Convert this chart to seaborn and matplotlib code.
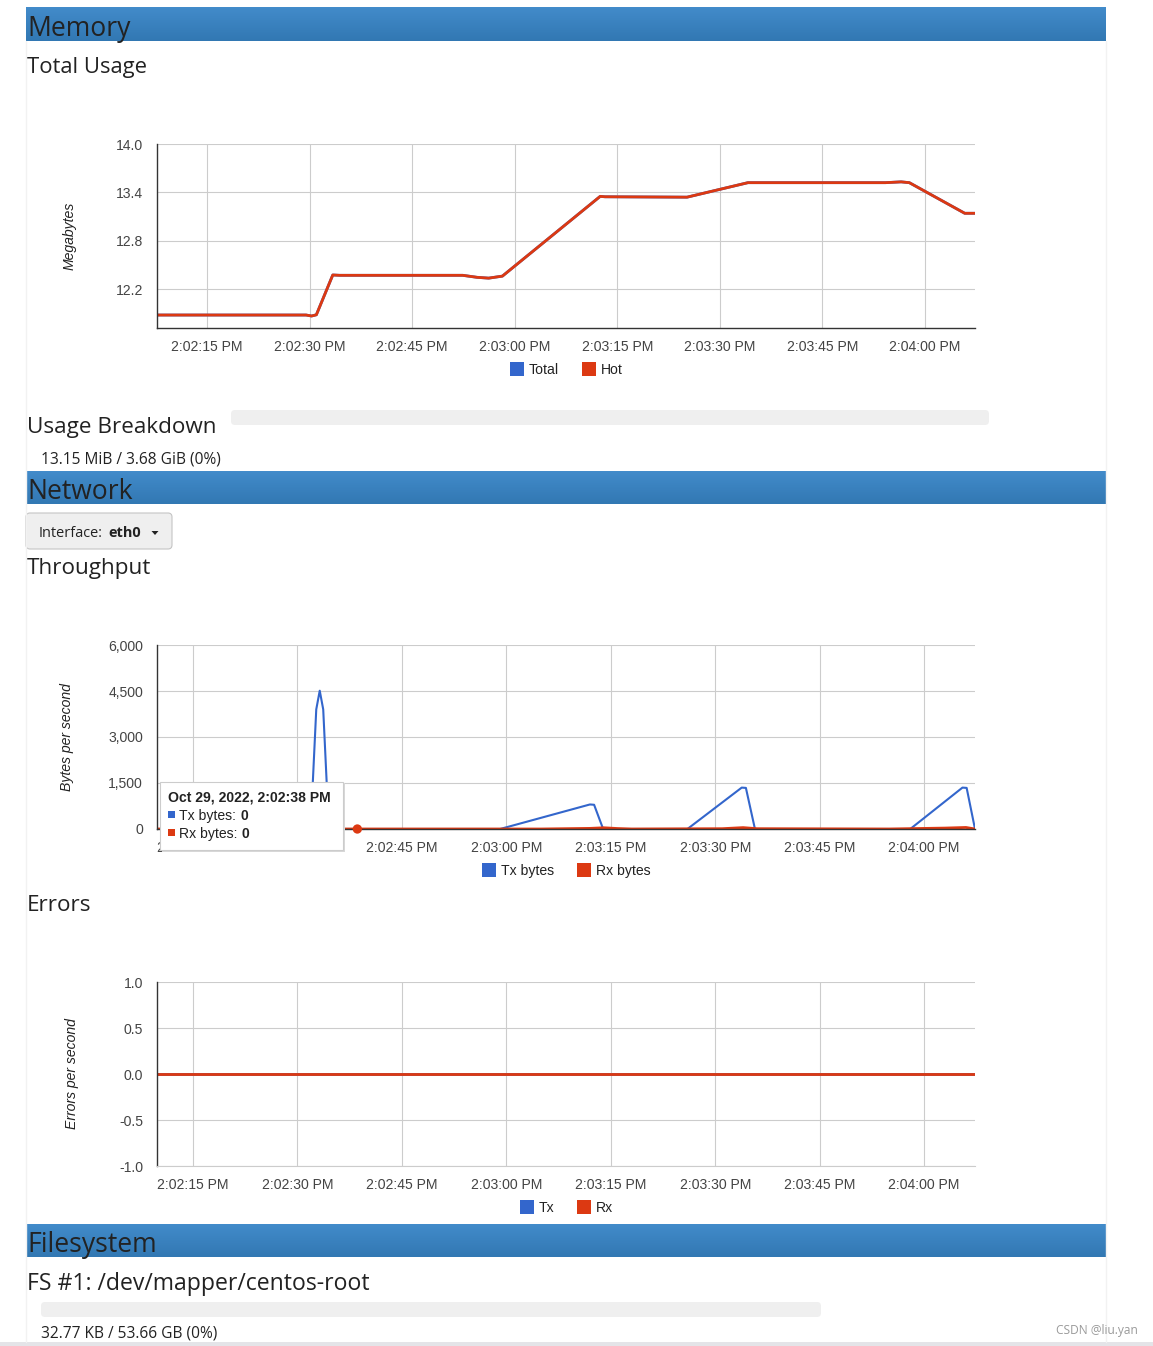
import numpy as np
import pandas as pd
import matplotlib.pyplot as plt
import seaborn as sns
from matplotlib.patches import FancyBboxPatch, Polygon
from matplotlib.lines import Line2D
from matplotlib.colors import LinearSegmentedColormap

sns.set_theme(style="white")
plt.rcParams["font.family"] = ["Liberation Sans", "DejaVu Sans"]

# -------- data (x = seconds after 2:02:15 PM) --------
tick_secs = [0, 15, 30, 45, 60, 75, 90, 105]
tick_labels = ["2:02:15 PM", "2:02:30 PM", "2:02:45 PM", "2:03:00 PM",
               "2:03:15 PM", "2:03:30 PM", "2:03:45 PM", "2:04:00 PM"]

mem_t = [-7.3, 14.5, 15.3, 16.0, 18.4, 19.4, 37.4, 39.5, 41.2, 43.2,
         57.5, 58.2, 70.2, 79.1, 99.2, 101.5, 102.7, 110.8, 112.3]
mem_total = [11.877, 11.877, 11.865, 11.88, 12.374, 12.37, 12.37, 12.345, 12.335, 12.36,
             13.35, 13.345, 13.34, 13.52, 13.52, 13.53, 13.52, 13.14, 13.14]
mem_hot = [11.877, 11.877, 11.865, 11.88, 12.374, 12.37, 12.37, 12.345, 12.335, 12.36,
           13.35, 13.345, 13.34, 13.52, 13.52, 13.53, 13.52, 13.14, 13.14]
mem_yticks = [12.2, 12.8, 13.4, 14.0]
mem_ylabels = ["12.2", "12.8", "13.4", "14.0"]

tx_t = [-5.2, 16.5, 17.2, 17.7, 18.2, 18.7, 19.2, 19.7, 44.1, 57.0, 57.6, 58.9,
        71.0, 78.8, 79.4, 80.7, 103.0, 110.5, 111.1, 112.3]
tx_bytes = [0, 0, 1500, 3900, 4510, 3900, 1500, 0, 0, 800, 790, 0,
            0, 1350, 1340, 0, 0, 1350, 1340, 0]
rx_t = [-5.2, 50.0, 57.0, 59.0, 61.0, 63.0, 76.0, 79.0, 81.0, 100.0, 108.0, 111.0, 112.3]
rx_bytes = [0, 0, 20, 40, 15, 0, 10, 45, 10, 0, 30, 50, 0]
net_yticks = [0, 1500, 3000, 4500, 6000]
net_ylabels = ["0", "1,500", "3,000", "4,500", "6,000"]
hover_t = [23.6]
hover_rx = [0]

err_t = [-5.2, 112.3]
err_tx = [0.0, 0.0]
err_rx = [0.0, 0.0]
err_yticks = [-1.0, -0.5, 0.0, 0.5, 1.0]
err_ylabels = ["-1.0", "-0.5", "0.0", "0.5", "1.0"]

BLUE = "#3366cc"
RED = "#dc3912"

W, H, DPI = 1153, 1346, 100
fig = plt.figure(figsize=(W / DPI, H / DPI), dpi=DPI)
fig.patch.set_facecolor("white")
T = fig.dpi_scale_trans
PAGE = ["Open Sans", "Noto Sans", "DejaVu Sans"]
CHART_PX = 14


def pt(px):
    return px * 0.72


def box(x0, y0, x1, y1, fc, ec="none", r=0, lw=0, z=1):
    style = f"round,pad=0,rounding_size={r / DPI}" if r else "square,pad=0"
    fig.add_artist(FancyBboxPatch((x0 / DPI, (H - y1) / DPI), (x1 - x0) / DPI, (y1 - y0) / DPI,
                                  boxstyle=style, fc=fc, ec=ec, lw=lw, transform=T, zorder=z))


def txt(x, y, s, px, **kw):
    kw.setdefault("va", "baseline")
    kw.setdefault("family", PAGE)
    kw.setdefault("color", "#222222")
    fig.text(x / DPI, (H - y) / DPI, s, transform=T, fontsize=pt(px), **kw)


def header(y0, y1, label, base):
    bax = fig.add_axes([26 / W, 1 - y1 / H, (1106 - 26) / W, (y1 - y0) / H])
    cmap = LinearSegmentedColormap.from_list("hdr", ["#428bca", "#3278b3"])
    bax.imshow(np.linspace(0, 1, 32).reshape(-1, 1), aspect="auto", cmap=cmap)
    bax.axis("off")
    txt(27, base, label, 26.5)


def chart_axes(x0, y0, x1, y1):
    return fig.add_axes([x0 / W, 1 - y1 / H, (x1 - x0) / W, (y1 - y0) / H])


def style_chart(ax, xlim, ylim, yticks, ylabels, bottom_dark=True):
    ax.set_xlim(xlim)
    ax.set_ylim(ylim)
    ax.set_xticks(tick_secs)
    ax.set_xticklabels(tick_labels)
    ax.set_yticks(yticks)
    ax.set_yticklabels(ylabels)
    ax.grid(True, color="#cccccc", lw=0.8)
    ax.set_axisbelow(True)
    ax.spines["top"].set_visible(False)
    ax.spines["right"].set_visible(False)
    ax.spines["left"].set_color("#333333")
    ax.spines["left"].set_linewidth(1.0)
    ax.spines["bottom"].set_color("#333333" if bottom_dark else "#cccccc")
    ax.spines["bottom"].set_linewidth(1.0 if bottom_dark else 0.8)
    ax.tick_params(axis="x", length=0, labelsize=pt(CHART_PX), colors="#444444", pad=pt(12))
    ax.tick_params(axis="y", length=0, labelsize=pt(CHART_PX), colors="#444444", pad=pt(14))
    ax.set_xlabel("")
    ax.set_ylabel("")
    ax.set_facecolor("white")


def legend(items, y):
    for x, color, label in items:
        box(x, y - 7, x + 14, y + 7, color)
        fig.text((x + 19) / DPI, (H - y) / DPI, label, transform=T, fontsize=pt(CHART_PX),
                 color="#222222", va="center_baseline")


def ylabel(x, y, s):
    txt(x, y, s, CHART_PX, rotation=90, style="italic", va="center", ha="center",
        family=["Liberation Sans"])


# container edges + bottom strip
for xx in (25.5, 1106):
    fig.add_artist(Line2D([xx / DPI, xx / DPI], [(H - 41) / DPI, (H - 1342) / DPI],
                          transform=T, color="#f2f2f2", lw=1))
box(0, 1342, W, H, "#e4e4e8")

# -------- Memory --------
header(7, 41, "Memory", 36)
txt(27, 73, "Total Usage", 22)

ax1 = chart_axes(157, 144, 975, 328)
mem = pd.DataFrame({"t": mem_t, "total": mem_total, "hot": mem_hot})
sns.lineplot(data=mem, x="t", y="total", ax=ax1, color=BLUE, lw=2, legend=False)
sns.lineplot(data=mem, x="t", y="hot", ax=ax1, color=RED, lw=2, legend=False)
style_chart(ax1, (-7.3, 112.3), (11.716, 14.0), mem_yticks, mem_ylabels)
ylabel(70, 236, "Megabytes")
legend([(510, BLUE, "Total"), (582, RED, "Hot")], 369)

txt(27, 433, "Usage Breakdown", 22.5)
box(231, 410, 989, 425, "#efefef", r=4)
txt(41, 464, "13.15 MiB / 3.68 GiB (0%)", 15.5)

# -------- Network --------
header(471, 504, "Network", 499)
box(26, 513, 172, 549, "#efefef", ec="#c4c4c4", r=4, lw=0.8)
txt(39, 537.5, "Interface:", 14.5)
txt(108.5, 537.5, "eth0", 14.5, weight="bold")
fig.add_artist(Polygon([(151.5 / DPI, (H - 531) / DPI), (158.5 / DPI, (H - 531) / DPI),
                        (155 / DPI, (H - 535) / DPI)], closed=True, transform=T,
                       fc="#222222", ec="none", zorder=2))
txt(27, 574, "Throughput", 22.5)

ax2 = chart_axes(157, 645, 975, 829)
tx = pd.DataFrame({"t": tx_t, "bytes": tx_bytes})
rx = pd.DataFrame({"t": rx_t, "bytes": rx_bytes})
sns.lineplot(data=tx, x="t", y="bytes", ax=ax2, color=BLUE, lw=1.5, legend=False)
sns.lineplot(data=rx, x="t", y="bytes", ax=ax2, color=RED, lw=2, legend=False)
sns.scatterplot(x=hover_t, y=hover_rx, ax=ax2, color=RED, s=45, edgecolor="none",
                zorder=5, clip_on=False)
style_chart(ax2, (-5.17, 112.3), (0, 6000), net_yticks, net_ylabels)
ylabel(67, 737, "Bytes per second")
legend([(482, BLUE, "Tx bytes"), (577, RED, "Rx bytes")], 870)

# tooltip
TF = ["Liberation Sans"]
box(162, 783, 345, 852, "#d8d8d8", z=4)
box(159.5, 781.5, 342.5, 850, "white", ec="#cccccc", lw=0.8, z=5)
txt(168, 802, "Oct 29, 2022, 2:02:38 PM", 14, weight="bold", family=TF, zorder=6)
box(168, 811, 174.5, 817.5, BLUE, z=6)
txt(179, 820, "Tx bytes:", 14, family=TF, zorder=6)
txt(240.5, 820, "0", 14, weight="bold", family=TF, zorder=6)
box(168, 829, 174.5, 835.5, RED, z=6)
txt(179, 838, "Rx bytes:", 14, family=TF, zorder=6)
txt(241.5, 838, "0", 14, weight="bold", family=TF, zorder=6)

# -------- Errors --------
txt(27, 911, "Errors", 22.5)
ax3 = chart_axes(157, 982, 975, 1166)
err = pd.DataFrame({"t": err_t, "tx": err_tx, "rx": err_rx})
sns.lineplot(data=err, x="t", y="tx", ax=ax3, color=BLUE, lw=2, legend=False)
sns.lineplot(data=err, x="t", y="rx", ax=ax3, color=RED, lw=2, legend=False)
style_chart(ax3, (-5.17, 112.3), (-1.0, 1.0), err_yticks, err_ylabels, bottom_dark=False)
ylabel(72, 1074, "Errors per second")
legend([(520, BLUE, "Tx"), (577, RED, "Rx")], 1207)

# -------- Filesystem --------
header(1224, 1257, "Filesystem", 1252)
txt(27, 1290, "FS #1: /dev/mapper/centos-root", 23)
box(41, 1302, 821, 1317, "#efefef", r=4)
txt(41, 1337, "32.77 KB / 53.66 GB (0%)", 15.5)
txt(1138, 1334, "CSDN @liu.yan", 12, ha="right", color="#9a9a9a")

fig.savefig("out.png", dpi=DPI)
